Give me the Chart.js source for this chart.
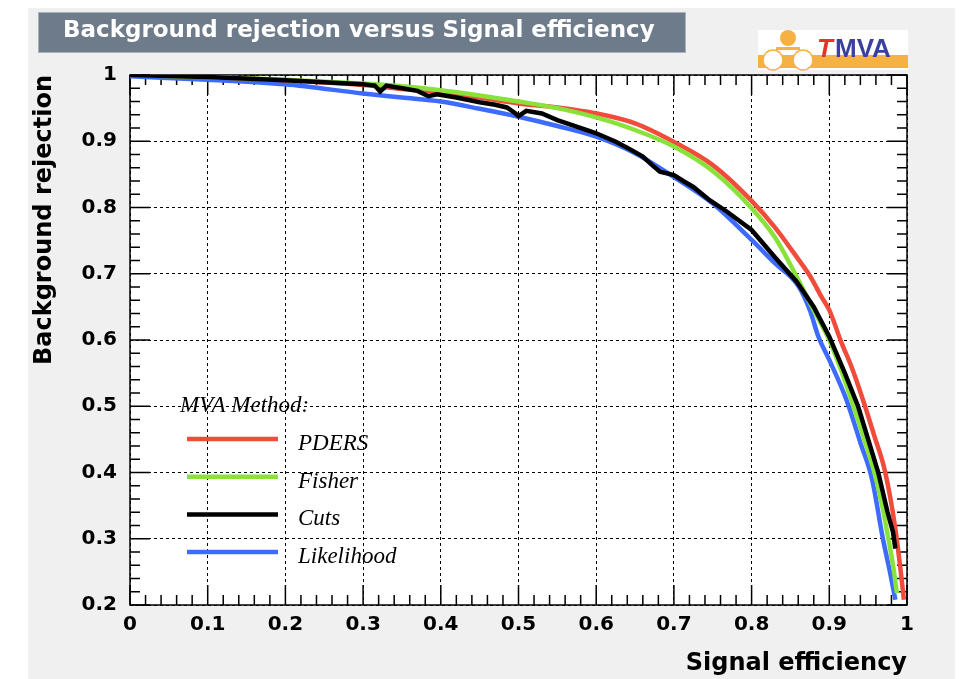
<!DOCTYPE html>
<html>
<head>
<meta charset="utf-8">
<title>Background rejection versus Signal efficiency</title>
<script src="https://cdn.jsdelivr.net/npm/chart.js@4/dist/chart.umd.min.js"></script>
<style>
  html, body { margin: 0; padding: 0; background: #fff; }
  #wrap { position: relative; width: 960px; height: 679px; }
</style>
</head>
<body>
<div id="wrap"><canvas id="rocChart"></canvas></div>
<script>
// ROC curves: signal efficiency (x) vs background rejection (y)
const effPDERS = [0, 0.1, 0.2, 0.3, 0.35, 0.4, 0.45, 0.5, 0.55, 0.6, 0.65, 0.7, 0.75, 0.8, 0.83, 0.86, 0.875, 0.89, 0.9, 0.915, 0.93, 0.946, 0.958, 0.97, 0.978, 0.985, 0.991, 0.996];
const rejPDERS = [1.0, 0.997, 0.992, 0.985, 0.979, 0.974, 0.966, 0.957, 0.951, 0.942, 0.927, 0.899, 0.864, 0.81, 0.77, 0.722, 0.697, 0.665, 0.645, 0.598, 0.555, 0.5, 0.455, 0.41, 0.365, 0.315, 0.26, 0.208];

const effFisher = [0, 0.1, 0.2, 0.3, 0.35, 0.4, 0.45, 0.5, 0.55, 0.6, 0.65, 0.7, 0.75, 0.8, 0.83, 0.856, 0.88, 0.9, 0.915, 0.931, 0.945, 0.958, 0.968, 0.976, 0.982, 0.987];
const rejFisher = [1.0, 0.997, 0.993, 0.987, 0.983, 0.977, 0.969, 0.96, 0.95, 0.936, 0.917, 0.892, 0.855, 0.799, 0.755, 0.7, 0.645, 0.6, 0.555, 0.5, 0.45, 0.4, 0.35, 0.3, 0.26, 0.218];

const effCuts = [0, 0.1, 0.2, 0.3, 0.315, 0.322, 0.33, 0.35, 0.37, 0.384, 0.395, 0.42, 0.45, 0.47, 0.485, 0.495, 0.5, 0.51, 0.53, 0.55, 0.57, 0.59, 0.6, 0.626, 0.645, 0.66, 0.672, 0.682, 0.7, 0.712, 0.725, 0.746, 0.768, 0.8, 0.83, 0.858, 0.88, 0.9, 0.92, 0.937, 0.95, 0.963, 0.975, 0.982, 0.985];
const rejCuts = [1.0, 0.997, 0.992, 0.986, 0.984, 0.975, 0.984, 0.98, 0.976, 0.968, 0.971, 0.966, 0.959, 0.955, 0.951, 0.943, 0.938, 0.946, 0.942, 0.932, 0.924, 0.916, 0.912, 0.899, 0.887, 0.877, 0.864, 0.854, 0.849, 0.84, 0.831, 0.811, 0.794, 0.766, 0.725, 0.688, 0.65, 0.605, 0.55, 0.5, 0.45, 0.4, 0.34, 0.31, 0.285];

const effLikelihood = [0, 0.1, 0.2, 0.3, 0.35, 0.4, 0.45, 0.5, 0.55, 0.6, 0.65, 0.7, 0.75, 0.8, 0.83, 0.86, 0.875, 0.886, 0.9, 0.922, 0.94, 0.955, 0.969, 0.978, 0.985];
const rejLikelihood = [0.998, 0.993, 0.986, 0.972, 0.966, 0.96, 0.949, 0.937, 0.923, 0.907, 0.882, 0.846, 0.806, 0.751, 0.716, 0.682, 0.645, 0.605, 0.57, 0.51, 0.445, 0.39, 0.3, 0.25, 0.208];

const methodNames = ["PDERS", "Fisher", "Cuts", "Likelihood"];
const methodColors = ["#f04b3b", "#88e23a", "#000000", "#3d6bff"];
const xTicks = [0, 0.1, 0.2, 0.3, 0.4, 0.5, 0.6, 0.7, 0.8, 0.9, 1];
const yTicks = [0.2, 0.3, 0.4, 0.5, 0.6, 0.7, 0.8, 0.9, 1];

function toPoints(xs, ys) {
  return xs.map((x, i) => ({ x: x, y: ys[i] }));
}

const curves = [
  toPoints(effPDERS, rejPDERS),
  toPoints(effFisher, rejFisher),
  toPoints(effCuts, rejCuts),
  toPoints(effLikelihood, rejLikelihood),
];
// lower order is painted last (on top)
const drawOrder = [2, 1, 0, 3];

const datasets = methodNames.map((name, i) => ({
  label: name,
  data: curves[i],
  borderColor: methodColors[i],
  borderWidth: 4.5,
  pointRadius: 0,
  fill: false,
  order: drawOrder[i],
  tension: 0,
  cubicInterpolationMode: name === "Cuts" ? "default" : "monotone",
}));

const fmt = (v) => String(Math.round(v * 10) / 10);

// pad, title bar, TMVA badge, framed axes with inward ticks, legend
const decor = {
  id: "decor",
  beforeDraw(chart) {
    const ctx = chart.ctx;
    const a = chart.chartArea;
    ctx.save();
    ctx.fillStyle = "#ffffff";
    ctx.fillRect(0, 0, chart.width, chart.height);
    ctx.fillStyle = "#f0f0f0";
    ctx.fillRect(28, 8, 927, chart.height - 8);
    ctx.fillStyle = "#ffffff";
    ctx.fillRect(a.left, a.top, a.right - a.left, a.bottom - a.top);

    // title bar
    ctx.fillStyle = "#6e7b8b";
    ctx.fillRect(38, 12, 648, 41);
    ctx.strokeStyle = "#a9b1bb";
    ctx.lineWidth = 1;
    ctx.strokeRect(38.5, 12.5, 647, 40);
    ctx.fillStyle = "#ffffff";
    ctx.font = "bold 23px 'DejaVu Sans'";
    ctx.textBaseline = "middle";
    ctx.textAlign = "left";
    ctx.fillText("Background rejection versus Signal efficiency", 63, 31);

    // TMVA badge
    ctx.fillStyle = "#ffffff";
    ctx.fillRect(758, 30, 150, 40);
    ctx.fillStyle = "#f5b143";
    ctx.fillRect(758, 55, 150, 13);
    ctx.beginPath();
    ctx.arc(788, 38, 8, 0, Math.PI * 2);
    ctx.fill();
    ctx.fillRect(776, 47, 24, 3);
    ctx.fillStyle = "#ffffff";
    ctx.strokeStyle = "#f5b143";
    ctx.lineWidth = 1.5;
    [773, 803].forEach((cx) => {
      ctx.beginPath();
      ctx.arc(cx, 60, 10, 0, Math.PI * 2);
      ctx.fill();
      ctx.stroke();
    });
    ctx.textBaseline = "alphabetic";
    ctx.fillStyle = "#e8322a";
    ctx.font = "italic bold 26px 'Liberation Sans'";
    ctx.fillText("T", 817, 57);
    ctx.fillStyle = "#3a409e";
    ctx.font = "bold 26px 'Liberation Sans'";
    ctx.fillText("MVA", 835, 57);
    ctx.restore();
  },
  beforeDatasetsDraw(chart) {
    const ctx = chart.ctx;
    const a = chart.chartArea;
    const xs = chart.scales.x;
    const ys = chart.scales.y;
    ctx.save();
    ctx.strokeStyle = "#000";
    ctx.lineWidth = 1.5;
    ctx.beginPath();
    for (let i = 0; i <= 50; i++) {
      const px = xs.getPixelForValue(i * 0.02);
      const len = i % 5 === 0 ? 20 : 10;
      ctx.moveTo(px, a.bottom); ctx.lineTo(px, a.bottom - len);
      ctx.moveTo(px, a.top); ctx.lineTo(px, a.top + len);
    }
    for (let i = 0; i <= 40; i++) {
      const py = ys.getPixelForValue(0.2 + i * 0.02);
      const len = i % 5 === 0 ? 20 : 10;
      ctx.moveTo(a.left, py); ctx.lineTo(a.left + len, py);
      ctx.moveTo(a.right, py); ctx.lineTo(a.right - len, py);
    }
    ctx.stroke();
    ctx.strokeRect(a.left, a.top, a.right - a.left, a.bottom - a.top);
    ctx.restore();
  },
  afterDraw(chart) {
    const ctx = chart.ctx;
    ctx.save();
    ctx.fillStyle = "#000";
    ctx.textAlign = "left";
    ctx.textBaseline = "alphabetic";
    ctx.font = "italic 23px 'Liberation Serif'";
    ctx.fillText("MVA Method:", 180, 412);
    ctx.lineWidth = 4.5;
    methodNames.forEach((name, i) => {
      const y = 439 + i * 37.7;
      ctx.strokeStyle = methodColors[i];
      ctx.beginPath();
      ctx.moveTo(187, y);
      ctx.lineTo(278, y);
      ctx.stroke();
      ctx.fillText(name, 298, y + 11);
    });
    ctx.restore();
  },
};

const ctx = document.getElementById("rocChart").getContext("2d");
const rocChart = new Chart(ctx, {
  type: "line",
  data: { datasets: datasets },
  plugins: [decor],
  options: {
    responsive: true,
    maintainAspectRatio: false,
    animation: false,
    layout: { padding: { left: 0, top: 75, right: 53, bottom: 0 } },
    plugins: {
      legend: { display: false },
      tooltip: { enabled: false },
    },
    scales: {
      x: {
        type: "linear",
        min: 0,
        max: 1,
        afterFit: (s) => { s.height = 74; },
        afterBuildTicks: (s) => { s.ticks = xTicks.map((v) => ({ value: v })); },
        ticks: {
          callback: fmt,
          autoSkip: false,
          maxRotation: 0,
          padding: 8,
          color: "#000",
          font: { family: "DejaVu Sans", weight: "bold", size: 20 },
        },
        grid: { color: "#000", lineWidth: 1, drawTicks: false },
        border: { display: false, dash: [3, 3] },
        title: {
          display: true,
          text: "Signal efficiency",
          align: "end",
          color: "#000",
          padding: { top: 0, bottom: 1 },
          font: { family: "DejaVu Sans", weight: "bold", size: 24 },
        },
      },
      y: {
        type: "linear",
        min: 0.2,
        max: 1,
        afterFit: (s) => { s.width = 130; },
        afterBuildTicks: (s) => { s.ticks = yTicks.map((v) => ({ value: v })); },
        ticks: {
          callback: fmt,
          padding: 13,
          color: "#000",
          font: { family: "DejaVu Sans", weight: "bold", size: 20 },
        },
        grid: { color: "#000", lineWidth: 1, drawTicks: false },
        border: { display: false, dash: [3, 3] },
        title: {
          display: true,
          text: "Background rejection",
          align: "end",
          color: "#000",
          padding: { top: 30, bottom: 0 },
          font: { family: "DejaVu Sans", weight: "bold", size: 24 },
        },
      },
    },
  },
});
</script>
</body>
</html>
